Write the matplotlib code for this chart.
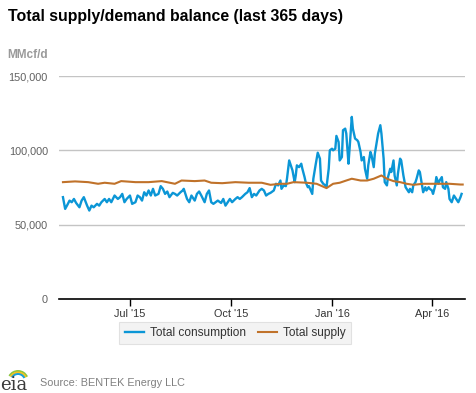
"""
Total supply/demand balance (last 365 days), EIA natural gas chart.
"""

import numpy as np
import pandas as pd
import matplotlib
matplotlib.use("Agg")
import matplotlib.pyplot as plt
from matplotlib.patches import Arc
from matplotlib.ticker import FuncFormatter

plt.rcParams['font.family'] = ['Liberation Sans', 'DejaVu Sans']

# ----------------------------------------------------------------------
# Data, days since 2015-05-01, values in MMcf/d
# ----------------------------------------------------------------------
START = pd.Timestamp("2015-05-01")

cons_day = [0, 2, 4, 6, 8, 10, 12, 15, 17, 19, 22, 24, 26, 28, 31, 33, 35, 38,
            40, 42, 44, 47, 50, 52, 54, 56, 58, 61, 63, 66, 68, 70, 72, 74, 76,
            78, 80, 82, 84, 87, 89, 91, 93, 95, 97, 100, 102, 104, 107, 109, 110,
            113, 115, 117, 120, 122, 124, 126, 129, 131, 133, 135, 137, 139, 141,
            144, 146, 148, 150, 152, 154, 157, 159, 161, 163, 166, 168, 170, 172,
            174, 176, 179, 181, 183, 185, 187, 189, 192, 194, 196, 198, 199, 201,
            203, 204, 206, 207, 209, 211, 212, 213, 215, 217, 218, 220, 221, 223,
            224, 227, 228, 230, 232, 234, 235, 237, 239, 240, 242, 243, 245, 246,
            248, 249, 251, 252, 254, 255, 257, 258, 260, 261, 263, 264, 266, 268,
            269, 271, 272, 274, 275, 277, 278, 280, 281, 283, 284, 286, 287, 289,
            290, 292, 293, 295, 296, 298, 299, 301, 302, 304, 305, 307, 308, 310,
            312, 313, 315, 316, 318, 319, 321, 322, 324, 325, 327, 328, 330, 331,
            333, 334, 336, 337, 339, 340, 342, 343, 345, 346, 348, 349, 351, 352,
            354, 356, 357, 359, 360, 362, 363]
cons_val = [68.5, 60.6, 63.3, 66.2, 65.1, 67.3, 64.6, 61.7, 66.2, 68.5, 62.8,
            59.5, 62.8, 61.7, 64.0, 62.8, 65.1, 67.3, 65.1, 67.3, 65.1, 69.6, 67.3,
            68.5, 70.7, 65.1, 67.3, 69.6, 64.0, 65.1, 69.6, 68.5, 66.2, 71.8, 69.6,
            73.0, 69.6, 74.1, 69.6, 70.7, 75.9, 74.1, 70.7, 72.3, 68.5, 71.4, 70.7,
            69.6, 71.8, 73.0, 74.1, 67.3, 65.1, 69.6, 66.2, 70.7, 72.3, 69.6, 65.1,
            70.7, 73.0, 65.1, 64.0, 65.1, 66.2, 64.6, 67.3, 62.8, 65.1, 67.3, 65.1,
            67.3, 68.5, 67.3, 68.5, 70.7, 71.8, 74.6, 68.5, 70.7, 69.6, 73.0, 74.1,
            73.0, 69.6, 70.7, 71.4, 73.0, 77.5, 76.4, 79.7, 74.1, 76.4, 75.9, 80.9,
            93.2, 91.0, 86.5, 78.6, 83.1, 89.9, 88.7, 91.0, 87.6, 82.0, 78.6, 75.2,
            75.9, 70.7, 80.9, 89.9, 98.4, 94.4, 79.7, 77.5, 76.4, 75.2, 87.6, 100.0,
            101.1, 100.0, 101.1, 109.7, 105.6, 93.2, 95.5, 113.5, 114.6, 111.3,
            91.0, 101.1, 122.5, 114.6, 107.9, 106.8, 105.6, 98.9, 93.2, 95.5, 87.6,
            80.9, 89.9, 98.9, 96.6, 88.7, 97.7, 106.8, 111.3, 116.9, 111.3, 94.4,
            78.6, 76.4, 82.0, 87.6, 85.4, 93.2, 83.1, 76.4, 84.2, 94.4, 93.2, 83.1,
            75.2, 74.1, 71.8, 74.1, 71.8, 76.4, 78.6, 80.9, 86.5, 85.4, 76.4, 71.8,
            75.2, 73.0, 75.2, 74.1, 73.0, 70.7, 76.4, 82.0, 77.5, 79.7, 82.0, 75.2,
            74.1, 78.6, 74.1, 67.3, 65.1, 69.6, 68.5, 66.2, 65.1, 68.5, 70.7]

supply_day = [0, 11, 23, 32, 38, 47, 53, 66, 78, 90, 102, 108, 120, 129, 135,
              145, 157, 169, 181, 189, 198, 204, 210, 222, 231, 240, 246, 252,
              258, 263, 271, 277, 283, 290, 295, 301, 307, 313, 319, 328, 337,
              343, 352, 362, 364]
supply_val = [78.6, 79.1, 78.6, 77.5, 78.2, 77.5, 79.3, 78.6, 78.6, 79.3, 77.5,
              79.7, 79.3, 79.7, 78.2, 77.9, 78.6, 78.2, 78.2, 76.8, 77.5, 77.5,
              78.6, 78.2, 77.5, 74.6, 77.5, 78.2, 79.7, 80.9, 79.7, 79.7, 80.9,
              83.1, 80.9, 79.3, 78.6, 77.5, 76.8, 77.5, 77.5, 77.5, 77.5, 77.0,
              77.0]

Y_TICKS = [0, 50000, 100000, 150000]
X_TICKS = ["2015-07-01", "2015-10-01", "2016-01-01", "2016-04-01"]
X_LABELS = ["Jul '15", "Oct '15", "Jan '16", "Apr '16"]

CONS_COLOR = "#0b96d6"
SUPPLY_COLOR = "#c0722a"

cons_x = [START + pd.Timedelta(days=d) for d in cons_day]
supply_x = [START + pd.Timedelta(days=d) for d in supply_day]

# ----------------------------------------------------------------------
# Plot
# ----------------------------------------------------------------------
fig = plt.figure(figsize=(4.77, 3.93), dpi=100)
ax = fig.add_axes([59 / 477, 1 - 299 / 393, 406 / 477, 223 / 393])

ax.plot(cons_x, np.array(cons_val) * 1000, color=CONS_COLOR, lw=1.7,
        label="Total consumption", zorder=3)
ax.plot(supply_x, np.array(supply_val) * 1000, color=SUPPLY_COLOR, lw=1.5,
        label="Total supply", zorder=4)

ax.set_ylim(0, 150000)
ax.set_xlim(START - pd.Timedelta(days=3.6), START + pd.Timedelta(days=366.1))

ax.set_yticks(Y_TICKS)
ax.yaxis.set_major_formatter(FuncFormatter(lambda v, p: f"{int(v):,}"))
ax.tick_params(axis='y', length=0, pad=8, labelsize=7.8, labelcolor='#606060')
for v in Y_TICKS[1:]:
    ax.axhline(v, color='#c4c4c4', lw=1.0, zorder=1)

ax.set_xticks([pd.Timestamp(t) for t in X_TICKS])
ax.set_xticklabels(X_LABELS)
ax.tick_params(axis='x', length=5, width=1, color='black', pad=2,
               labelsize=7.8, labelcolor='#333333')

for s in ['top', 'right', 'left']:
    ax.spines[s].set_visible(False)
ax.spines['bottom'].set_color('black')
ax.spines['bottom'].set_linewidth(1.2)
ax.spines['bottom'].set_zorder(5)

# title and unit
fig.text(8 / 477, 1 - 17 / 393, "Total supply/demand balance (last 365 days)",
         fontsize=11.4, fontweight='bold', color='black', va='center', ha='left')
fig.text(7 / 477, 1 - 55 / 393, "MMcf/d", fontsize=8.5, fontweight='bold',
         color='#9a9a9a', va='center', ha='left')

# legend
leg = fig.legend(loc='center', bbox_to_anchor=(235 / 477, 1 - 333 / 393),
                 ncol=2, frameon=True, fontsize=8.6, handlelength=1.6,
                 handletextpad=0.5, columnspacing=1.0, borderpad=0.45,
                 fancybox=False)
leg.get_frame().set_facecolor('#f0f0f0')
leg.get_frame().set_edgecolor('#dcdcdc')
leg.get_frame().set_linewidth(0.8)
for t in leg.get_texts():
    t.set_color('#333333')

# source line and a simple eia mark
fig.text(40 / 477, 1 - 383 / 393, "Source: BENTEK Energy LLC", fontsize=7.8,
         color='#808080', va='center', ha='left')
fig.text(0, 1 - 385 / 393, "eia", fontsize=13, family='DejaVu Serif',
         color='#3a3a3a', va='center', ha='left')
lax = fig.add_axes([0, 0, 40 / 477, 30 / 393])
lax.set_xlim(0, 40)
lax.set_ylim(0, 30)
lax.axis('off')
for r, c in [(10, '#8dc63f'), (8.5, '#f7c31a'), (7, '#1a9fd9')]:
    lax.add_patch(Arc((18, 12), 2 * r, 2 * r, theta1=25, theta2=150,
                      color=c, lw=1.4))

fig.savefig("out.png", dpi=100)
